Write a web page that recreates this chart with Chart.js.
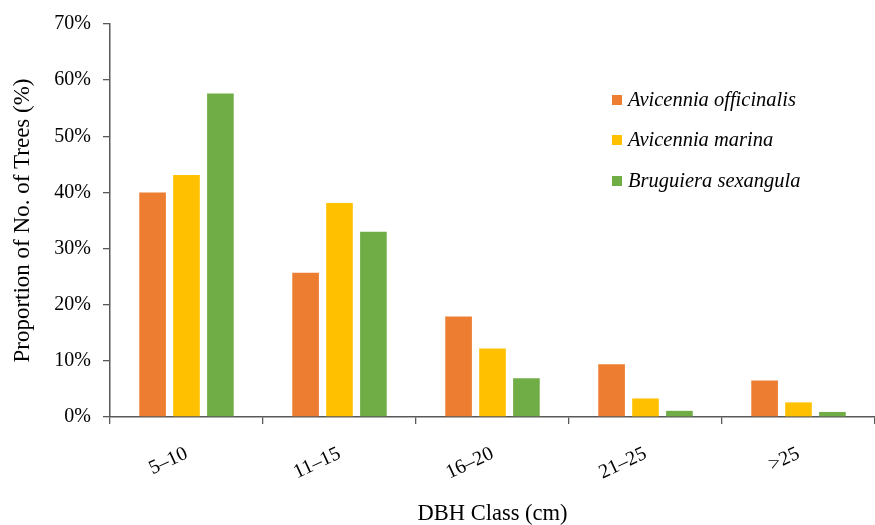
<!DOCTYPE html>
<html>
<head>
<meta charset="utf-8">
<script src="https://cdn.jsdelivr.net/npm/chart.js@4/dist/chart.umd.min.js"></script>
<style>
  html, body { margin: 0; padding: 0; background: #ffffff; }
  #wrap { position: relative; width: 875px; height: 525px; }
</style>
</head>
<body>
<div id="wrap"><canvas id="c" width="875" height="525"></canvas></div>
<script>
const categories = ["5\u201310", "11\u201315", "16\u201320", "21\u201325", ">25"];
const seriesNames = ["Avicennia officinalis", "Avicennia marina", "Bruguiera sexangula"];
const avicenniaOfficinalis = [40.0, 25.7, 17.9, 9.4, 6.5];
const avicenniaMarina = [43.1, 38.1, 12.2, 3.3, 2.6];
const bruguieraSexangula = [57.6, 33.0, 6.9, 1.1, 0.9];
const yTicks = [0, 10, 20, 30, 40, 50, 60, 70];
const colors = ["#ED7D31", "#FFC000", "#70AD47"];

const serif = "'Liberation Serif', 'Times New Roman', serif";

const legendPlugin = {
  id: 'insideLegend',
  afterDraw(chart) {
    const ctx = chart.ctx;
    ctx.save();
    const x0 = 612, ys = [100, 140, 181];
    chart.data.datasets.forEach((ds, i) => {
      ctx.fillStyle = ds.backgroundColor;
      ctx.fillRect(x0, ys[i] - 5, 10, 10);
      ctx.fillStyle = '#000';
      ctx.font = "italic 20.5px " + serif;
      ctx.textBaseline = 'middle';
      ctx.textAlign = 'left';
      ctx.fillText(ds.label, x0 + 16, ys[i] + 1);
    });
    ctx.restore();
  }
};

new Chart(document.getElementById('c'), {
  type: 'bar',
  data: {
    labels: categories,
    datasets: [
      { label: seriesNames[0], data: avicenniaOfficinalis, backgroundColor: colors[0] },
      { label: seriesNames[1], data: avicenniaMarina, backgroundColor: colors[1] },
      { label: seriesNames[2], data: bruguieraSexangula, backgroundColor: colors[2] }
    ]
  },
  options: {
    responsive: false,
    animation: false,
    devicePixelRatio: 1,
    layout: { padding: { top: 4, right: 0, bottom: 0, left: 0 } },
    datasets: { bar: { categoryPercentage: 0.665, barPercentage: 0.785 } },
    plugins: {
      legend: { display: false },
      tooltip: { enabled: false }
    },
    scales: {
      x: {
        afterFit(scale) { scale.height = 108; },
        grid: {
          display: true, drawOnChartArea: false, drawTicks: true, tickLength: 7,
          color: '#595959', lineWidth: 1.3, offset: true
        },
        border: { display: true, color: '#595959', width: 1.5 },
        ticks: {
          color: '#000', font: { family: serif, size: 20 },
          minRotation: 25, maxRotation: 25, padding: 18, autoSkip: false
        },
        title: {
          display: true, text: 'DBH Class (cm)', color: '#000',
          font: { family: serif, size: 22.5, lineHeight: 1.0 }, padding: { top: 0, bottom: 0 }
        }
      },
      y: {
        min: 0, max: 70,
        afterBuildTicks(scale) { scale.ticks = yTicks.map(v => ({ value: v })); },
        afterFit(scale) { scale.width = 110; },
        grid: {
          display: true, drawOnChartArea: false, drawTicks: true, tickLength: 7,
          color: '#595959', lineWidth: 1.3
        },
        border: { display: true, color: '#595959', width: 1.5 },
        ticks: {
          color: '#000', font: { family: serif, size: 20 }, padding: 12,
          callback: v => v + '%'
        },
        title: {
          display: true, text: 'Proportion of No. of Trees (%)', color: '#000',
          font: { family: serif, size: 23 }, padding: { top: 9, bottom: 0 }
        }
      }
    }
  },
  plugins: [legendPlugin]
});
</script>
</body>
</html>
